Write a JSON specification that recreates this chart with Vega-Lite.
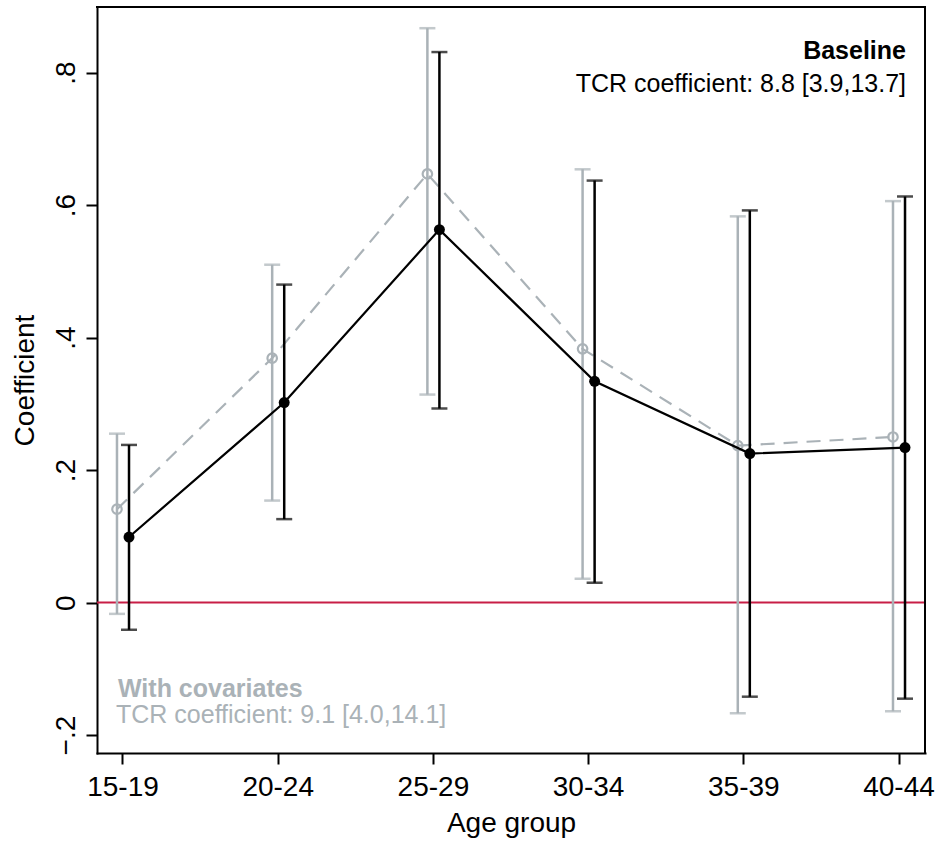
{
  "$schema": "https://vega.github.io/schema/vega-lite/v6.json",
  "width": 828,
  "height": 746,
  "autosize": {"type": "none"},
  "padding": {"left": 97, "top": 7, "right": 17, "bottom": 89},
  "background": "white",
  "config": {
    "view": {"stroke": null},
    "font": "Liberation Sans",
    "axis": {
      "grid": false, "domain": true, "domainColor": "black", "domainWidth": 2, "domainCap": "square",
      "tickColor": "black", "tickWidth": 2, "tickSize": 11,
      "labelColor": "black", "titleColor": "black", "labelFont": "Liberation Sans", "titleFont": "Liberation Sans",
      "labelFontSize": 28, "titleFontSize": 28, "titleFontWeight": "normal"
    }
  },
  "datasets": {
    "est": [
      {"group": "15-19", "series": "With covariates", "est": 0.141, "lo": -0.017, "hi": 0.255},
      {"group": "20-24", "series": "With covariates", "est": 0.369, "lo": 0.154, "hi": 0.510},
      {"group": "25-29", "series": "With covariates", "est": 0.647, "lo": 0.314, "hi": 0.867},
      {"group": "30-34", "series": "With covariates", "est": 0.383, "lo": 0.036, "hi": 0.654},
      {"group": "35-39", "series": "With covariates", "est": 0.237, "lo": -0.167, "hi": 0.583},
      {"group": "40-44", "series": "With covariates", "est": 0.250, "lo": -0.164, "hi": 0.606},
      {"group": "15-19", "series": "Baseline", "est": 0.099, "lo": -0.041, "hi": 0.238},
      {"group": "20-24", "series": "Baseline", "est": 0.302, "lo": 0.126, "hi": 0.480},
      {"group": "25-29", "series": "Baseline", "est": 0.563, "lo": 0.293, "hi": 0.831},
      {"group": "30-34", "series": "Baseline", "est": 0.334, "lo": 0.030, "hi": 0.637},
      {"group": "35-39", "series": "Baseline", "est": 0.225, "lo": -0.142, "hi": 0.592},
      {"group": "40-44", "series": "Baseline", "est": 0.234, "lo": -0.145, "hi": 0.613}
    ],
    "notes": [
      {"group": "40-44", "est": 0.833, "label": "Baseline", "kind": "base_title"},
      {"group": "40-44", "est": 0.783, "label": "TCR coefficient: 8.8 [3.9,13.7]", "kind": "base_text"},
      {"group": "15-19", "est": -0.131, "label": "With covariates", "kind": "cov_title"},
      {"group": "15-19", "est": -0.169, "label": "TCR coefficient: 9.1 [4.0,14.1]", "kind": "cov_text"}
    ]
  },
  "layer": [
    {
      "data": {"values": [{"v": 0}]},
      "mark": {"type": "rule", "color": "#c81e46", "strokeWidth": 2, "x": 0, "x2": {"expr": "width"}},
      "encoding": {
        "y": {"field": "v", "type": "quantitative", "title": "Coefficient",
              "scale": {"domain": [-0.227, 0.899], "nice": false, "zero": false},
              "axis": {"values": [-0.2, 0, 0.2, 0.4, 0.6, 0.8],
                       "labelExpr": "datum.value == 0 ? '0' : replace(format(datum.value, '.1f'), '0.', '.')",
                       "labelAngle": -90, "labelAlign": "center", "labelBaseline": "bottom", "labelPadding": 6,
                       "title": "Coefficient", "titlePadding": 13}}
      }
    },
    {
      "data": {"values": [{"v": 0}]},
      "mark": {"type": "rule", "color": "black", "strokeWidth": 2, "strokeCap": "square", "x": 0, "x2": {"expr": "width"}},
      "encoding": {
        "y": {"datum": 0.899, "type": "quantitative", "title": "Coefficient"}
      }
    },
    {
      "data": {"values": [{"v": 0}]},
      "mark": {"type": "rule", "color": "black", "strokeWidth": 2, "strokeCap": "square", "x": {"expr": "width"}},
      "encoding": {
        "y": {"datum": 0.899, "type": "quantitative", "title": "Coefficient"},
        "y2": {"datum": -0.227}
      }
    },
    {
      "data": {"name": "est"},
      "transform": [{"filter": "datum.series == 'With covariates'"}],
      "mark": {"type": "rule", "color": "#aab2b7", "strokeWidth": 2.5},
      "encoding": {
        "x": {"field": "group", "type": "ordinal", "sort": null, "title": "Age group",
              "scale": {"type": "band", "paddingInner": 0.845, "paddingOuter": 0.09, "domain": ["15-19", "20-24", "25-29", "30-34", "35-39", "40-44"]},
              "axis": {"labelAngle": 0, "labelPadding": 9, "title": "Age group", "titlePadding": 8}},
        "xOffset": {"field": "series", "type": "nominal", "scale": {"domain": ["With covariates", "Baseline"]}},
        "y": {"field": "lo", "type": "quantitative", "title": "Coefficient"},
        "y2": {"field": "hi"}
      }
    },
    {
      "data": {"name": "est"},
      "transform": [{"filter": "datum.series == 'With covariates'"}],
      "mark": {"type": "tick", "color": "#aab2b7", "size": 16, "thickness": 2.5},
      "encoding": {
        "x": {"field": "group", "type": "ordinal", "title": "Age group"},
        "xOffset": {"field": "series", "type": "nominal"},
        "y": {"field": "lo", "type": "quantitative", "title": "Coefficient"}
      }
    },
    {
      "data": {"name": "est"},
      "transform": [{"filter": "datum.series == 'With covariates'"}],
      "mark": {"type": "tick", "color": "#aab2b7", "size": 16, "thickness": 2.5},
      "encoding": {
        "x": {"field": "group", "type": "ordinal", "title": "Age group"},
        "xOffset": {"field": "series", "type": "nominal"},
        "y": {"field": "hi", "type": "quantitative", "title": "Coefficient"}
      }
    },
    {
      "data": {"name": "est"},
      "transform": [{"filter": "datum.series == 'With covariates'"}],
      "mark": {"type": "line", "color": "#aab2b7", "strokeWidth": 2.2, "strokeDash": [14, 9]},
      "encoding": {
        "x": {"field": "group", "type": "ordinal", "title": "Age group"},
        "xOffset": {"field": "series", "type": "nominal"},
        "y": {"field": "est", "type": "quantitative", "title": "Coefficient"}
      }
    },
    {
      "data": {"name": "est"},
      "transform": [{"filter": "datum.series == 'With covariates'"}],
      "mark": {"type": "point", "shape": "circle", "filled": false, "stroke": "#aab2b7", "strokeWidth": 2.2, "size": 90, "opacity": 1},
      "encoding": {
        "x": {"field": "group", "type": "ordinal", "title": "Age group"},
        "xOffset": {"field": "series", "type": "nominal"},
        "y": {"field": "est", "type": "quantitative", "title": "Coefficient"}
      }
    },
    {
      "data": {"name": "est"},
      "transform": [{"filter": "datum.series == 'Baseline'"}],
      "mark": {"type": "rule", "color": "black", "strokeWidth": 2.5},
      "encoding": {
        "x": {"field": "group", "type": "ordinal", "title": "Age group"},
        "xOffset": {"field": "series", "type": "nominal"},
        "y": {"field": "lo", "type": "quantitative", "title": "Coefficient"},
        "y2": {"field": "hi"}
      }
    },
    {
      "data": {"name": "est"},
      "transform": [{"filter": "datum.series == 'Baseline'"}],
      "mark": {"type": "tick", "color": "black", "size": 16, "thickness": 2.5},
      "encoding": {
        "x": {"field": "group", "type": "ordinal", "title": "Age group"},
        "xOffset": {"field": "series", "type": "nominal"},
        "y": {"field": "lo", "type": "quantitative", "title": "Coefficient"}
      }
    },
    {
      "data": {"name": "est"},
      "transform": [{"filter": "datum.series == 'Baseline'"}],
      "mark": {"type": "tick", "color": "black", "size": 16, "thickness": 2.5},
      "encoding": {
        "x": {"field": "group", "type": "ordinal", "title": "Age group"},
        "xOffset": {"field": "series", "type": "nominal"},
        "y": {"field": "hi", "type": "quantitative", "title": "Coefficient"}
      }
    },
    {
      "data": {"name": "est"},
      "transform": [{"filter": "datum.series == 'Baseline'"}],
      "mark": {"type": "line", "color": "black", "strokeWidth": 2.2},
      "encoding": {
        "x": {"field": "group", "type": "ordinal", "title": "Age group"},
        "xOffset": {"field": "series", "type": "nominal"},
        "y": {"field": "est", "type": "quantitative", "title": "Coefficient"}
      }
    },
    {
      "data": {"name": "est"},
      "transform": [{"filter": "datum.series == 'Baseline'"}],
      "mark": {"type": "point", "shape": "circle", "filled": true, "color": "black", "size": 120, "opacity": 1},
      "encoding": {
        "x": {"field": "group", "type": "ordinal", "title": "Age group"},
        "xOffset": {"field": "series", "type": "nominal"},
        "y": {"field": "est", "type": "quantitative", "title": "Coefficient"}
      }
    },
    {
      "data": {"name": "notes"},
      "transform": [{"filter": "datum.kind == 'base_title'"}],
      "mark": {"type": "text", "align": "right", "baseline": "middle", "dx": 7, "fontSize": 25, "fontWeight": "bold", "color": "black"},
      "encoding": {
        "x": {"field": "group", "type": "ordinal", "title": "Age group"},
        "y": {"field": "est", "type": "quantitative", "title": "Coefficient"},
        "text": {"field": "label"}
      }
    },
    {
      "data": {"name": "notes"},
      "transform": [{"filter": "datum.kind == 'base_text'"}],
      "mark": {"type": "text", "align": "right", "baseline": "middle", "dx": 7, "fontSize": 25, "color": "black"},
      "encoding": {
        "x": {"field": "group", "type": "ordinal", "title": "Age group"},
        "y": {"field": "est", "type": "quantitative", "title": "Coefficient"},
        "text": {"field": "label"}
      }
    },
    {
      "data": {"name": "notes"},
      "transform": [{"filter": "datum.kind == 'cov_title'"}],
      "mark": {"type": "text", "align": "left", "baseline": "middle", "dx": -5, "fontSize": 25, "fontWeight": "bold", "color": "#aab2b7"},
      "encoding": {
        "x": {"field": "group", "type": "ordinal", "title": "Age group"},
        "y": {"field": "est", "type": "quantitative", "title": "Coefficient"},
        "text": {"field": "label"}
      }
    },
    {
      "data": {"name": "notes"},
      "transform": [{"filter": "datum.kind == 'cov_text'"}],
      "mark": {"type": "text", "align": "left", "baseline": "middle", "dx": -7, "fontSize": 25, "color": "#aab2b7"},
      "encoding": {
        "x": {"field": "group", "type": "ordinal", "title": "Age group"},
        "y": {"field": "est", "type": "quantitative", "title": "Coefficient"},
        "text": {"field": "label"}
      }
    }
  ]
}
